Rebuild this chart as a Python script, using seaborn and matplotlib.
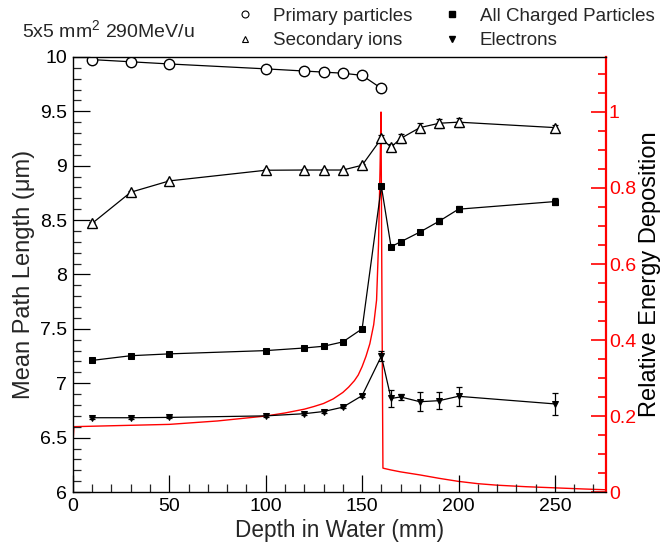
import numpy as np
import pandas as pd
import matplotlib
matplotlib.use("Agg")
import matplotlib.pyplot as plt
from matplotlib.lines import Line2D
from matplotlib.ticker import MultipleLocator
import seaborn as sns

# ---------------- data ----------------
depth_primary = [10, 30, 50, 100, 120, 130, 140, 150, 160]
primary = [9.975, 9.955, 9.935, 9.89, 9.87, 9.86, 9.85, 9.83, 9.71]

depth_full = [10, 30, 50, 100, 120, 130, 140, 150, 160, 165, 170, 180, 190, 200, 250]
secondary = [8.47, 8.756, 8.86, 8.958, 8.96, 8.96, 8.96, 9.004, 9.25, 9.17, 9.25, 9.35, 9.39, 9.40, 9.35]
secondary_err = [0.01, 0.01, 0.01, 0.01, 0.01, 0.01, 0.01, 0.01, 0.03, 0.03, 0.04, 0.04, 0.04, 0.04, 0.02]
charged = [7.21, 7.253, 7.27, 7.30, 7.324, 7.34, 7.38, 7.50, 8.81, 8.255, 8.30, 8.39, 8.49, 8.60, 8.67]
charged_err = [0.005, 0.005, 0.005, 0.005, 0.005, 0.005, 0.005, 0.005, 0.01, 0.02, 0.01, 0.02, 0.03, 0.03, 0.03]
electrons = [6.683, 6.683, 6.686, 6.70, 6.72, 6.74, 6.78, 6.886, 7.25, 6.86, 6.874, 6.83, 6.84, 6.88, 6.81]
electrons_err = [0.01, 0.01, 0.01, 0.01, 0.01, 0.01, 0.01, 0.015, 0.046, 0.077, 0.03, 0.086, 0.077, 0.09, 0.104]

bragg_depth = [0, 0.5, 25, 50, 75, 100, 105, 110, 115, 120, 125, 130, 135, 140, 143, 146, 148,
               150, 152, 154, 156, 157.5, 158.5, 159.3, 159.8, 160.3, 160.8, 161.5, 165, 170,
               180, 190, 200, 210, 220, 235, 250, 265, 276]
bragg_dose = [0.125, 0.172, 0.175, 0.178, 0.187, 0.200, 0.204, 0.208, 0.213, 0.218, 0.225, 0.233,
              0.245, 0.262, 0.276, 0.293, 0.308, 0.33, 0.357, 0.39, 0.44, 0.505, 0.65, 0.85, 1.0,
              0.5, 0.063, 0.062, 0.058, 0.053, 0.045, 0.036, 0.028, 0.022, 0.018, 0.014, 0.011,
              0.008, 0.006]

left_ticks = [6, 6.5, 7, 7.5, 8, 8.5, 9, 9.5, 10]
left_labels = ["6", "6.5", "7", "7.5", "8", "8.5", "9", "9.5", "10"]
right_ticks = [0, 0.2, 0.4, 0.6, 0.8, 1.0]
right_labels = ["0", "0.2", "0.4", "0.6", "0.8", "1"]
x_ticks = [0, 50, 100, 150, 200, 250]

# ---------------- style ----------------
sns.set_style("ticks")
plt.rcParams['font.family'] = ['Liberation Sans', 'DejaVu Sans']
plt.rcParams['mathtext.fontset'] = 'custom'
plt.rcParams['mathtext.rm'] = 'Liberation Sans'

TICK_FS = 14
fig = plt.figure(figsize=(6.63, 5.47), dpi=100)
ax = fig.add_axes([0.110, 0.1005, 0.804, 0.7955])
ax2 = ax.twinx()

df_p = pd.DataFrame({"x": depth_primary, "y": primary})
df_s = pd.DataFrame({"x": depth_full, "y": secondary})
df_c = pd.DataFrame({"x": depth_full, "y": charged})
df_e = pd.DataFrame({"x": depth_full, "y": electrons})
df_b = pd.DataFrame({"x": bragg_depth, "y": bragg_dose})

# red Bragg curve on secondary axis
sns.lineplot(data=df_b, x="x", y="y", ax=ax2, color="red", lw=1.0, sort=False,
             estimator=None)

lw = 0.9
sns.lineplot(data=df_p, x="x", y="y", ax=ax, color="black", lw=lw, marker="o",
             markersize=7.5, markerfacecolor="white", markeredgecolor="black",
             markeredgewidth=1.0, estimator=None, sort=False)
ax.errorbar(depth_full, secondary, yerr=secondary_err, fmt="none", ecolor="black",
            elinewidth=0.9, capsize=2, capthick=0.9)
sns.lineplot(data=df_s, x="x", y="y", ax=ax, color="black", lw=lw, marker="^",
             markersize=6.5, markerfacecolor="white", markeredgecolor="black",
             markeredgewidth=1.0, estimator=None, sort=False)
ax.errorbar(depth_full, charged, yerr=charged_err, fmt="none", ecolor="black",
            elinewidth=0.9, capsize=2, capthick=0.9)
sns.lineplot(data=df_c, x="x", y="y", ax=ax, color="black", lw=lw, marker="s",
             markersize=4.8, markerfacecolor="black", markeredgecolor="black",
             estimator=None, sort=False)
ax.errorbar(depth_full, electrons, yerr=electrons_err, fmt="none", ecolor="black",
            elinewidth=0.9, capsize=2, capthick=0.9)
sns.lineplot(data=df_e, x="x", y="y", ax=ax, color="black", lw=lw, marker="v",
             markersize=4.8, markerfacecolor="black", markeredgecolor="black",
             estimator=None, sort=False)

ax.set_zorder(ax2.get_zorder() + 1)
ax.patch.set_visible(False)

# axes limits
ax.set_xlim(0, 276.5)
ax.set_ylim(6, 10)
ax2.set_ylim(0, 1.145)

# ticks
ax.set_yticks(left_ticks)
ax.set_yticklabels(left_labels)
ax.yaxis.set_minor_locator(MultipleLocator(0.1))
ax.set_xticks(x_ticks)
ax.xaxis.set_minor_locator(MultipleLocator(10))
ax.tick_params(axis="both", which="major", direction="in", length=12, width=0.9,
               labelsize=TICK_FS, colors="black", pad=4)
ax.tick_params(axis="both", which="minor", direction="in", length=6, width=0.9)
ax.tick_params(axis="x", which="both", top=False)
ax.tick_params(axis="y", which="both", right=False)

ax2.set_yticks(right_ticks)
ax2.set_yticklabels(right_labels)
ax2.yaxis.set_minor_locator(MultipleLocator(0.05))
ax2.tick_params(axis="y", which="major", direction="in", length=11, width=1.2,
                labelsize=TICK_FS, colors="red", pad=2)
ax2.tick_params(axis="y", which="minor", direction="in", length=6, width=1.2,
                colors="red")

for s in ["left", "bottom", "top"]:
    ax.spines[s].set_color("black")
    ax.spines[s].set_linewidth(1.0)
ax.spines["right"].set_visible(False)
ax2.spines["right"].set_color("red")
ax2.spines["right"].set_linewidth(1.6)
for s in ["left", "bottom", "top"]:
    ax2.spines[s].set_visible(False)

ax.set_xlabel("Depth in Water (mm)", fontsize=16.3)
ax.set_ylabel("Mean Path Length (\u03bcm)", fontsize=17)
ax2.set_ylabel("Relative Energy Deposition", fontsize=17, color="black")
ax.xaxis.set_label_coords(0.5, -0.0874)
ax.xaxis.label.set_va("center")
ax.yaxis.set_label_coords(-0.0919, 0.5)
ax.yaxis.label.set_va("center")
ax2.yaxis.set_label_coords(1.0826, 0.5)
ax2.yaxis.label.set_va("center")

# header text
fig.text(0.033, 0.943, "5x5 mm$^2$ 290MeV/u", fontsize=14, ha="left", va="center")

handles = [
    Line2D([], [], ls="none", marker="o", ms=5, mfc="white", mec="black", mew=0.8),
    Line2D([], [], ls="none", marker="^", ms=4.5, mfc="white", mec="black", mew=0.8),
    Line2D([], [], ls="none", marker="s", ms=3.8, mfc="black", mec="black"),
    Line2D([], [], ls="none", marker="v", ms=3.8, mfc="black", mec="black"),
]
labels = ["Primary particles", "Secondary ions", "All Charged Particles", "Electrons"]
fig.legend(handles, labels, ncol=2, loc="upper left", bbox_to_anchor=(0.344, 1.0),
           frameon=False, fontsize=13.5, handlelength=1.0, handletextpad=1.0,
           columnspacing=1.6, labelspacing=0.4, borderaxespad=0)

fig.savefig("out.png", dpi=100)
